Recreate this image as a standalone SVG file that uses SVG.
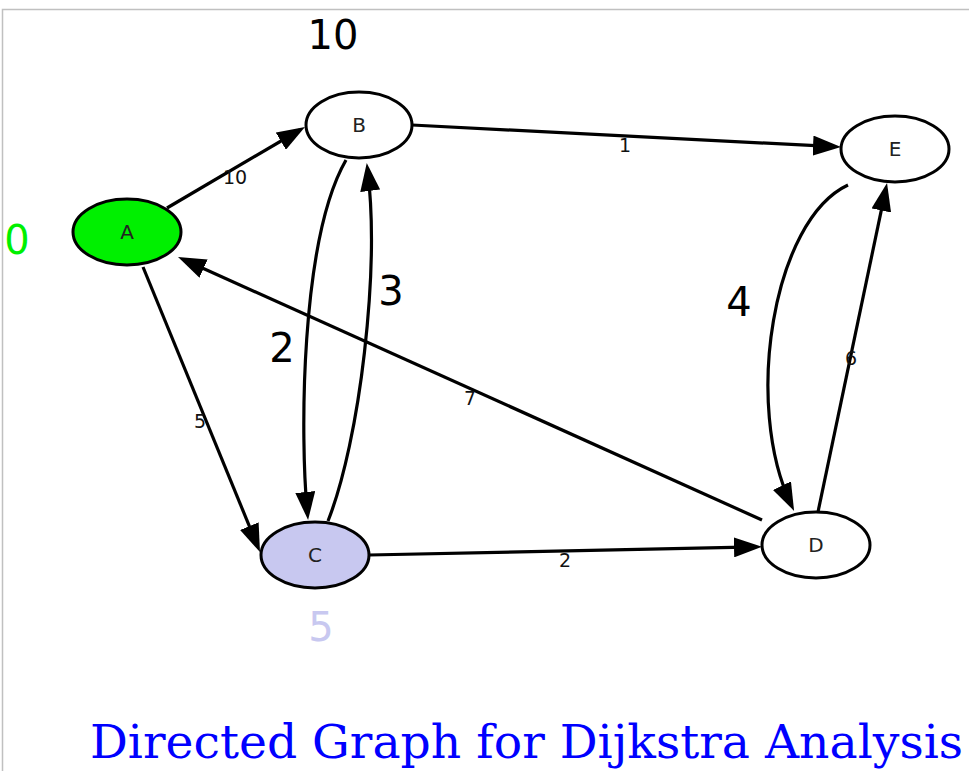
<svg xmlns="http://www.w3.org/2000/svg" width="969" height="771" viewBox="0 0 969 771">
<style>
.node ellipse{stroke:#000;stroke-width:3}
.nl{font-family:"DejaVu Sans",sans-serif;font-size:20px;fill:#222;text-anchor:middle}
.el{font-family:"DejaVu Sans",sans-serif;font-size:19px;fill:#111;text-anchor:middle}
.big{font-family:"DejaVu Sans",sans-serif;font-size:40px;text-anchor:middle}
.edge{fill:none;stroke:#000;stroke-width:3.2;marker-end:url(#ah)}
</style>
<defs>
<marker id="ah" viewBox="0 0 28 20" markerWidth="28" markerHeight="20" refX="22" refY="10" orient="auto" markerUnits="userSpaceOnUse">
<path d="M0,0 L28,10 L0,20 z" fill="#000"/>
</marker>
</defs>
<rect width="969" height="771" fill="#fff"/>
<path d="M2.5,771 L2.5,9.5 L969,9.5" fill="none" stroke="#c0c0c0" stroke-width="1.5"/>
<g id="connectors">
<path class="edge" d="M167,208 L299.8,130"/>
<path class="edge" d="M412,125 L835,146.7"/>
<path class="edge" d="M848,185 C773,220 743,405 791.5,505.5"/>
<path class="edge" d="M818,512 L885.8,188.9"/>
<path class="edge" d="M762,520 L183.5,259.5"/>
<path class="edge" d="M143,267 L257.7,546.5"/>
<path class="edge" d="M346,160 C300,240 300,440 307.5,514"/>
<path class="edge" d="M328,521 C360,440 380,270 367.5,169"/>
<path class="edge" d="M369,555 L756,546.9"/>
<text class="el" x="235" y="184">10</text>
<text class="el" x="625" y="152">1</text>
<text class="el" x="470" y="405">7</text>
<text class="el" x="200" y="428">5</text>
<text class="el" x="851" y="365">6</text>
<text class="el" x="565" y="567">2</text>
<text class="big" x="282" y="362" fill="#000">2</text>
<text class="big" x="391" y="305" fill="#000">3</text>
<text class="big" x="739" y="316" fill="#000">4</text>
</g>
<g id="node-A" class="node"><ellipse cx="127" cy="232" rx="54" ry="33" fill="#00f000"/><text class="nl" x="127" y="239">A</text></g>
<g id="node-B" class="node"><ellipse cx="359" cy="125" rx="53" ry="33" fill="#fff"/><text class="nl" x="359" y="132">B</text></g>
<g id="node-E" class="node"><ellipse cx="895" cy="149" rx="54" ry="33" fill="#fff"/><text class="nl" x="895" y="156">E</text></g>
<g id="node-C" class="node"><ellipse cx="315" cy="555" rx="54" ry="33" fill="#c8c8f0"/><text class="nl" x="315" y="562">C</text></g>
<g id="node-D" class="node"><ellipse cx="816" cy="545" rx="54" ry="33" fill="#fff"/><text class="nl" x="816" y="552">D</text></g>
<g id="distances">
<text class="big" x="333" y="49" fill="#000">10</text>
<text class="big" x="17" y="254" fill="#00f000">0</text>
<text class="big" x="321" y="641" fill="#c8c8f0">5</text>
</g>
<text x="90" y="758" font-family="'DejaVu Serif',serif" font-size="46" fill="#0000ff" textLength="873" lengthAdjust="spacingAndGlyphs">Directed Graph for Dijkstra Analysis</text>
</svg>
